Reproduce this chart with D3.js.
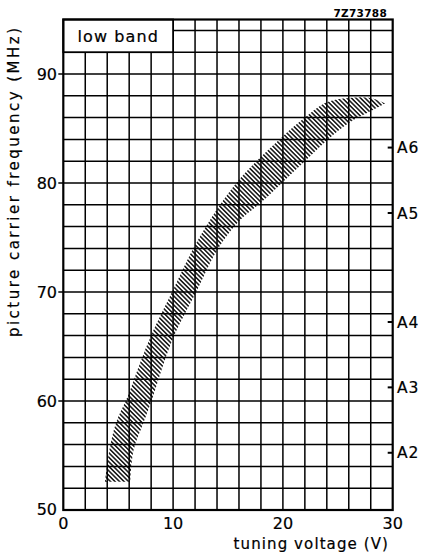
<!DOCTYPE html>
<html>
<head>
<meta charset="utf-8">
<script src="https://cdn.jsdelivr.net/npm/d3@7"></script>
<style>
  html, body { margin: 0; padding: 0; background: #fff; }
  text { font-family: "DejaVu Sans", sans-serif; fill: #000; stroke: #000; stroke-width: 0.2; }
</style>
</head>
<body>
<svg id="chart" width="422" height="555"></svg>
<script>
// ---- data ----
const xTicks = [0, 10, 20, 30];
const yTicks = [50, 60, 70, 80, 90];
const channelNames = ["A2", "A3", "A4", "A5", "A6"];
const channelFreqs = [55.25, 61.25, 67.25, 77.25, 83.25];
// upper-left boundary of the tuning band (V, MHz)
const bandUpperV = [3.8, 4.2, 4.8, 5.9, 7.0, 8.0, 10.0, 12.0, 14.0, 16.0, 18.0, 20.0, 22.0, 24.0, 26.0, 28.0, 29.3];
const bandUpperF = [52.6, 55.5, 58.0, 60.5, 63.5, 66.0, 70.2, 74.3, 77.6, 80.3, 82.4, 84.3, 86.0, 87.4, 87.8, 87.8, 87.3];
// lower-right boundary of the tuning band (V, MHz)
const bandLowerV = [6.1, 6.4, 7.3, 8.2, 9.0, 10.1, 12.1, 14.1, 16.0, 18.0, 20.0, 22.0, 24.0, 26.0, 28.0, 29.3];
const bandLowerF = [52.6, 55.5, 58.0, 60.5, 63.0, 66.0, 70.0, 74.0, 76.5, 78.2, 80.1, 82.0, 83.9, 85.5, 86.6, 87.3];

// ---- layout ----
const svg = d3.select("#chart");
const x = d3.scaleLinear().domain([0, 30]).range([63.3, 392.7]);
const y = d3.scaleLinear().domain([50, 95]).range([510, 19.5]);

// hatch pattern
const defs = svg.append("defs");
const pat = defs.append("pattern")
  .attr("id", "hatch")
  .attr("patternUnits", "userSpaceOnUse")
  .attr("width", 3.2).attr("height", 3.2)
  .attr("patternTransform", "rotate(-45)");
[0, 3.2].forEach(px => {
  pat.append("line")
    .attr("x1", px).attr("y1", -1).attr("x2", px).attr("y2", 4.2)
    .attr("stroke", "#000").attr("stroke-width", 1.4);
});

// band
const upper = bandUpperV.map((v, i) => [x(v), y(bandUpperF[i])]);
const lower = bandLowerV.map((v, i) => [x(v), y(bandLowerF[i])]).reverse();
const lg = d3.line().curve(d3.curveCatmullRom);
const pUp = lg(upper);
const pLo = lg(lower);
svg.append("path")
  .attr("d", pUp + "L" + pLo.slice(1) + "Z")
  .attr("fill", "url(#hatch)")
  .attr("stroke", "none");

// grid
const grid = svg.append("g").attr("stroke", "#000").attr("stroke-width", 1.5);
d3.range(2, 30, 2).forEach(v => {
  grid.append("line").attr("x1", x(v)).attr("x2", x(v)).attr("y1", y(50)).attr("y2", y(95));
});
d3.range(52, 95, 2).forEach(f => {
  grid.append("line").attr("x1", x(0)).attr("x2", x(30)).attr("y1", y(f)).attr("y2", y(f));
});

// label box
svg.append("rect")
  .attr("x", x(0)).attr("y", y(95))
  .attr("width", x(10) - x(0)).attr("height", y(92) - y(95))
  .attr("fill", "#fff").attr("stroke", "#000").attr("stroke-width", 1.8);
svg.append("text")
  .attr("x", (x(0) + x(10)) / 2).attr("y", 42)
  .attr("text-anchor", "middle")
  .attr("font-size", 16).attr("letter-spacing", 1.1)
  .text("low band");

// frame
svg.append("rect")
  .attr("x", x(0)).attr("y", y(95))
  .attr("width", x(30) - x(0)).attr("height", y(50) - y(95))
  .attr("fill", "none").attr("stroke", "#000").attr("stroke-width", 2.2);

// y ticks + labels
yTicks.forEach(t => {
  if (t > 50) {
    svg.append("line").attr("x1", x(0) - 5).attr("x2", x(0)).attr("y1", y(t)).attr("y2", y(t))
      .attr("stroke", "#000").attr("stroke-width", 1.5);
  }
  svg.append("text")
    .attr("x", 57).attr("y", y(t) + (t === 50 ? -1 : 0))
    .attr("dy", "0.36em")
    .attr("text-anchor", "end")
    .attr("font-size", 16)
    .text(t);
});

// x labels
xTicks.forEach(t => {
  svg.append("text")
    .attr("x", x(t)).attr("y", 529)
    .attr("text-anchor", "middle")
    .attr("font-size", 16)
    .text(t);
});

// channel ticks + labels (right)
channelFreqs.forEach((f, i) => {
  svg.append("line").attr("x1", x(30) - 5).attr("x2", x(30)).attr("y1", y(f)).attr("y2", y(f))
    .attr("stroke", "#000").attr("stroke-width", 2);
  svg.append("text")
    .attr("x", 397).attr("y", y(f)).attr("dy", "0.36em")
    .attr("font-size", 15.5).attr("letter-spacing", 1)
    .text(channelNames[i]);
});

// axis titles
svg.append("text")
  .attr("x", 389).attr("y", 549)
  .attr("text-anchor", "end")
  .attr("font-size", 15).attr("letter-spacing", 1.1)
  .text("tuning  voltage (V)");
svg.append("text")
  .attr("transform", "translate(19,337) rotate(-90)")
  .attr("font-size", 15)
  .attr("textLength", 309).attr("lengthAdjust", "spacing")
  .text("picture  carrier  frequency  (MHz)");

// figure code
svg.append("text")
  .attr("x", 387).attr("y", 17)
  .attr("text-anchor", "end")
  .attr("font-size", 10.5).attr("font-weight", "bold")
  .attr("letter-spacing", 0.3)
  .style("stroke-width", 0)
  .text("7Z73788");
</script>
</body>
</html>
